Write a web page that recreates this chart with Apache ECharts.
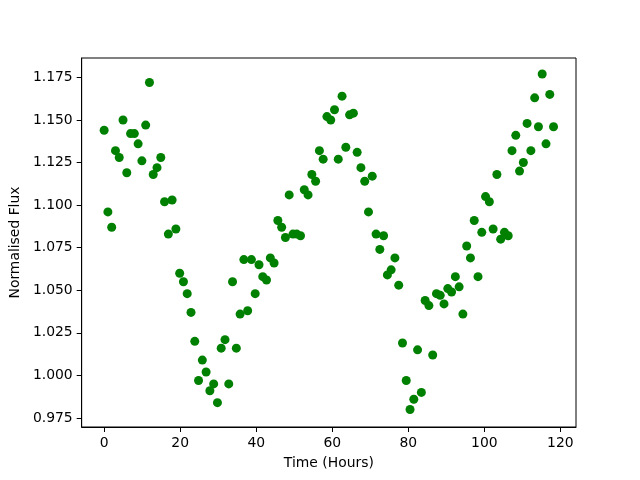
<!DOCTYPE html>
<html>
<head>
<meta charset="utf-8">
<script src="https://cdn.jsdelivr.net/npm/echarts@6/dist/echarts.min.js"></script>
<style>
html, body { margin: 0; padding: 0; background: #fff; }
#container { width: 640px; height: 480px; }
</style>
</head>
<body>
<div id="container"></div>
<script>
// time of each sample, hours
var times = [
    0, 0.99, 1.99, 2.98, 3.97, 4.97, 5.96, 6.95, 7.95, 8.94,
    9.93, 10.93, 11.92, 12.91, 13.91, 14.90, 15.89, 16.89, 17.88, 18.87,
    19.87, 20.86, 21.85, 22.85, 23.84, 24.83, 25.83, 26.82, 27.81, 28.81,
    29.80, 30.79, 31.79, 32.78, 33.77, 34.77, 35.76, 36.75, 37.75, 38.74,
    39.73, 40.73, 41.72, 42.71, 43.71, 44.70, 45.69, 46.69, 47.68, 48.67,
    49.67, 50.66, 51.65, 52.64, 53.64, 54.63, 55.62, 56.62, 57.61, 58.60,
    59.60, 60.59, 61.58, 62.58, 63.57, 64.56, 65.56, 66.55, 67.54, 68.54,
    69.53, 70.52, 71.52, 72.51, 73.50, 74.50, 75.49, 76.48, 77.48, 78.47,
    79.46, 80.46, 81.45, 82.44, 83.44, 84.43, 85.42, 86.42, 87.41, 88.40,
    89.40, 90.39, 91.38, 92.38, 93.37, 94.36, 95.36, 96.35, 97.34, 98.34,
    99.33, 100.32, 101.32, 102.31, 103.30, 104.30, 105.29, 106.28, 107.28, 108.27,
    109.26, 110.26, 111.25, 112.24, 113.24, 114.23, 115.22, 116.22, 117.21, 118.20
];
var flux = [
    1.144, 1.096, 1.087, 1.132, 1.128, 1.150, 1.119, 1.142, 1.142, 1.136,
    1.126, 1.147, 1.172, 1.118, 1.122, 1.128, 1.102, 1.083, 1.103, 1.086,
    1.060, 1.055, 1.048, 1.037, 1.020, 0.997, 1.009, 1.002, 0.991, 0.995,
    0.984, 1.016, 1.021, 0.995, 1.055, 1.016, 1.036, 1.068, 1.038, 1.068,
    1.048, 1.065, 1.058, 1.056, 1.069, 1.066, 1.091, 1.087, 1.081, 1.106,
    1.083, 1.083, 1.082, 1.109, 1.106, 1.118, 1.114, 1.132, 1.127, 1.152,
    1.150, 1.156, 1.127, 1.164, 1.134, 1.153, 1.154, 1.131, 1.122, 1.114,
    1.096, 1.117, 1.083, 1.074, 1.082, 1.059, 1.062, 1.069, 1.053, 1.019,
    0.997, 0.980, 0.986, 1.015, 0.990, 1.044, 1.041, 1.012, 1.048, 1.047,
    1.042, 1.051, 1.049, 1.058, 1.052, 1.036, 1.076, 1.069, 1.091, 1.058,
    1.084, 1.105, 1.102, 1.086, 1.118, 1.080, 1.084, 1.082, 1.132, 1.141,
    1.120, 1.125, 1.148, 1.132, 1.163, 1.146, 1.177, 1.136, 1.165, 1.146
];
var xTicks = [0, 20, 40, 60, 80, 100, 120];
var yTicks = [0.975, 1.000, 1.025, 1.050, 1.075, 1.100, 1.125, 1.150, 1.175];

var myChart = echarts.init(document.getElementById('container'));
var points = [];
for (var i = 0; i < times.length; i++) {
    points.push([times[i], flux[i]]);
}
var font = 'DejaVu Sans';
var option = {
    backgroundColor: '#fff',
    animation: false,
    grid: {
        left: 80,
        right: 64,
        top: 58,
        bottom: 53,
        show: true,
        borderColor: '#000',
        borderWidth: 1
    },
    xAxis: {
        type: 'value',
        min: -5.91,
        max: 124.11,
        name: 'Time (Hours)',
        nameLocation: 'middle',
        nameGap: 29,
        nameTextStyle: {color: '#000', fontFamily: font, fontSize: 13.9},
        splitLine: {show: false},
        axisLine: {show: true, onZero: false, lineStyle: {color: '#000', width: 1}},
        axisTick: {show: true, length: 5, customValues: xTicks, lineStyle: {color: '#000', width: 1}},
        axisLabel: {
            customValues: xTicks,
            margin: 9,
            color: '#000',
            fontFamily: font,
            fontSize: 13.9
        }
    },
    yAxis: {
        type: 'value',
        min: 0.9697,
        max: 1.1864,
        name: 'Normalised Flux',
        nameLocation: 'middle',
        nameGap: 53,
        nameTextStyle: {color: '#000', fontFamily: font, fontSize: 13.9},
        splitLine: {show: false},
        axisLine: {show: true, onZero: false, lineStyle: {color: '#000', width: 1}},
        axisTick: {show: true, length: 5, customValues: yTicks, lineStyle: {color: '#000', width: 1}},
        axisLabel: {
            customValues: yTicks,
            margin: 9,
            color: '#000',
            fontFamily: font,
            fontSize: 13.9,
            formatter: function (v) { return v.toFixed(3); }
        }
    },
    series: [
        {
            type: 'scatter',
            data: points,
            symbolSize: 9,
            itemStyle: {color: '#008000', opacity: 1}
        }
    ]
};
myChart.setOption(option);
</script>
</body>
</html>
